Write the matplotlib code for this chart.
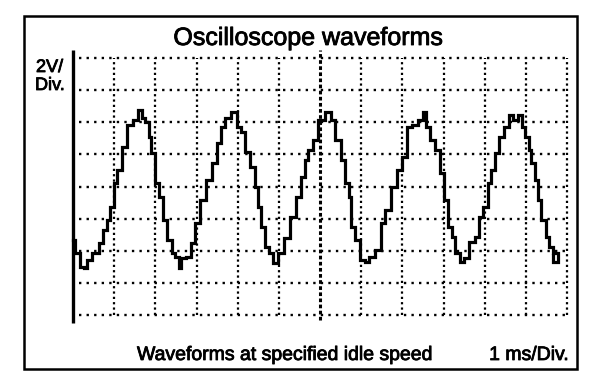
import matplotlib
matplotlib.use("Agg")
import matplotlib.pyplot as plt
from matplotlib.patches import Rectangle
import matplotlib.patheffects as pe

# ---- data (time in ms, voltage in V) ----
t_ms = [0.00, 0.10, 0.22, 0.32, 0.36, 0.58, 0.66, 0.78, 0.85, 0.95, 1.02, 1.14, 1.26, 1.38,
        1.55, 1.63, 1.70, 1.80, 1.87, 1.94, 2.04, 2.16, 2.23, 2.36, 2.43, 2.53, 2.60, 2.67,
        2.84, 2.91, 3.01, 3.16, 3.28, 3.45, 3.57, 3.64, 3.74, 3.94, 4.01, 4.13, 4.25, 4.35,
        4.47, 4.54, 4.61, 4.71, 4.83, 4.91, 5.03, 5.20, 5.34, 5.47, 5.59, 5.68, 5.76, 5.88,
        6.00, 6.24, 6.31, 6.44, 6.56, 6.66, 6.73, 6.80, 6.92, 7.04, 7.14, 7.26, 7.41, 7.53,
        7.65, 7.82, 7.94, 8.06, 8.18, 8.31, 8.43, 8.55, 8.62, 8.74, 8.87, 8.96, 9.08, 9.16,
        9.23, 9.35, 9.45, 9.57, 9.69, 9.84, 9.89, 10.01, 10.13, 10.20, 10.30, 10.42, 10.54,
        10.66, 10.74, 10.86, 10.93, 11.03, 11.10, 11.17, 11.27, 11.34, 11.42, 11.54, 11.59,
        11.71, 11.78, 11.78, 11.66, 11.66]
volts = [4.67, 3.86, 2.99, 2.93, 3.42, 3.86, 4.48, 5.29, 5.92, 6.72, 8.22, 9.03, 10.46, 11.83,
         12.14, 12.76, 12.27, 12.02, 11.08, 10.09, 8.22, 7.35, 5.92, 4.67, 3.86, 3.61, 2.93, 3.55,
         3.61, 4.48, 5.73, 7.16, 8.41, 9.46, 10.71, 11.71, 12.27, 12.64, 11.71, 11.39, 10.15, 9.22,
         7.97, 6.72, 5.48, 4.23, 3.86, 3.24, 3.86, 4.79, 6.10, 7.35, 8.59, 9.65, 10.27, 10.90,
         12.14, 12.64, 12.14, 10.90, 9.65, 8.22, 7.35, 5.48, 4.67, 3.42, 3.30, 3.61, 4.05, 5.73,
         6.54, 7.97, 9.03, 9.84, 11.71, 11.83, 12.14, 12.64, 11.71, 10.90, 10.27, 8.84, 7.16, 5.48,
         4.86, 3.86, 3.30, 3.55, 4.55, 4.86, 6.10, 6.72, 8.22, 9.03, 10.09, 11.08, 11.71,
         12.45, 12.14, 12.45, 11.71, 11.08, 10.27, 9.46, 8.41, 7.16, 5.92, 4.86, 4.23,
         3.86, 3.86, 3.30, 3.30, 3.74]

x_divs = list(range(0, 13))          # 1 ms / div
y_divs = list(range(0, 17, 2))       # 2 V / div

title = "Oscilloscope waveforms"
ylabel_lines = ["2V/", "Div."]
caption = "Waveforms at specified idle speed"
timebase = "1 ms/Div."

W, H = 608, 390
fig = plt.figure(figsize=(W / 100, H / 100), dpi=100)
fig.patch.set_facecolor("white")

font = ["Liberation Sans", "DejaVu Sans"]
thick = [pe.withStroke(linewidth=0.6, foreground="black")]

# outer frame
fig.patches.append(Rectangle((24 / W, 1 - 369 / H), (577 - 24) / W, (369 - 16) / H,
                             transform=fig.transFigure, fill=False, edgecolor="black",
                             linewidth=1.8))

ax = fig.add_axes([73 / W, 1 - 315 / H, (567 - 73) / W, (315 - 58) / H])
ax.set_xlim(0, 12)
ax.set_ylim(0, 16)
ax.axis("off")

# horizontal dotted grid
for yv in y_divs:
    ax.plot([0.15, 12], [yv, yv], color="black", linewidth=1.7,
            linestyle=(0, (1, 2.2)), dash_capstyle="butt", clip_on=False)
# vertical dotted grid
for xv in x_divs[1:]:
    if xv == 6:
        ax.plot([xv, xv], [-0.3, 16.5], color="black", linewidth=2.2,
                linestyle=(0, (1.2, 0.8)), dash_capstyle="butt", clip_on=False)
    else:
        ax.plot([xv, xv], [0, 16], color="black", linewidth=1.6,
                linestyle=(0, (1, 1.4)), dash_capstyle="butt", clip_on=False)

# solid left axis
ax.plot([0, 0], [-0.5, 16.5], color="black", linewidth=2.4, clip_on=False,
        solid_capstyle="butt")

# waveform
ax.plot(t_ms, volts, color="black", linewidth=2.3, clip_on=False,
        drawstyle="steps-mid", solid_joinstyle="miter")

# texts
kw = dict(family=font, color="black", path_effects=thick)
fig.text(308 / W, 1 - 45 / H, title, ha="center", va="baseline", fontsize=18, **kw)
fig.text(36 / W, 1 - 72 / H, ylabel_lines[0], ha="left", va="baseline", fontsize=13, **kw)
fig.text(35 / W, 1 - 90 / H, ylabel_lines[1], ha="left", va="baseline", fontsize=13, **kw)
fig.text(137 / W, 1 - 360 / H, caption, ha="left", va="baseline", fontsize=14, **kw)
fig.text(569 / W, 1 - 360 / H, timebase, ha="right", va="baseline", fontsize=14, **kw)

fig.savefig("out.png", dpi=100, facecolor="white")
